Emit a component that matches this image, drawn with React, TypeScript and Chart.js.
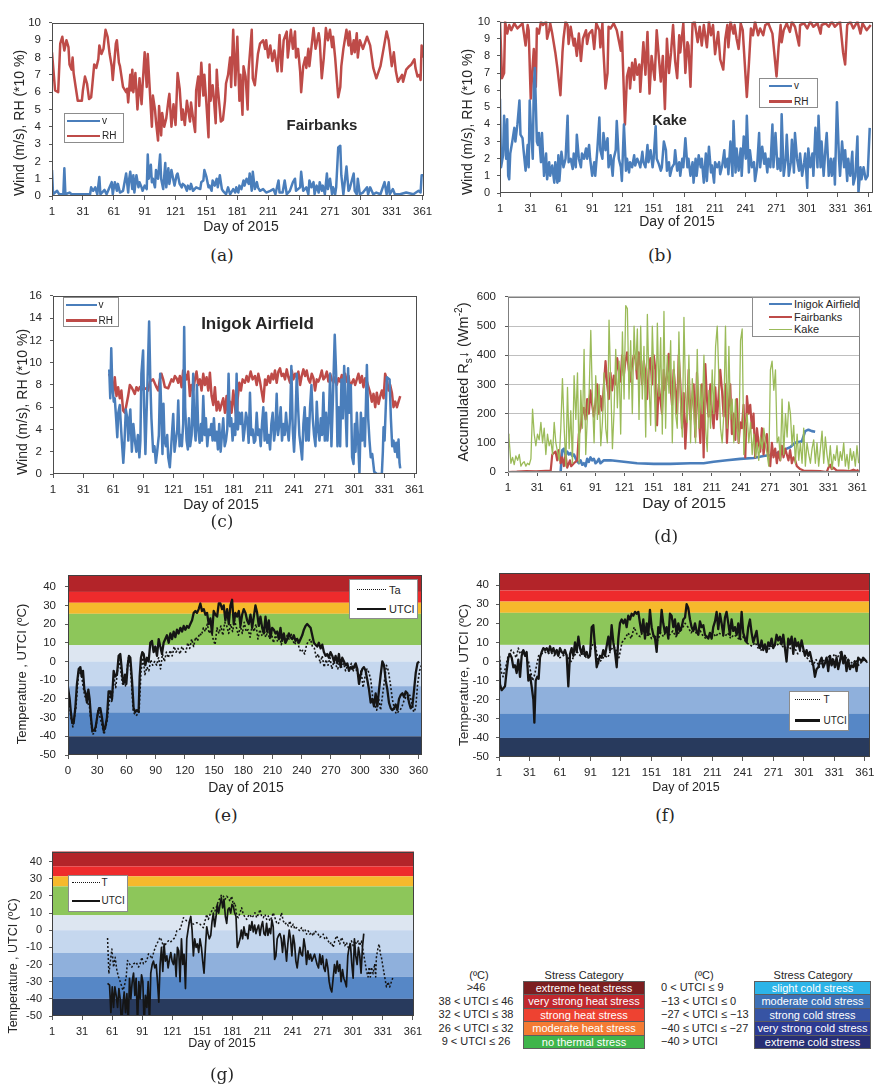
import React, { useEffect, useRef } from "react";
import { Chart, registerables } from "chart.js";

Chart.register(...registerables);

type P = [number, number];

// ---------- axis ticks ----------
const dayTicksFrom1 = [1, 31, 61, 91, 121, 151, 181, 211, 241, 271, 301, 331, 361];
const dayTicksFrom0 = [0, 30, 60, 90, 120, 150, 180, 210, 240, 270, 300, 330, 360];
const windTicks = [0, 1, 2, 3, 4, 5, 6, 7, 8, 9, 10];
const inigokWindTicks = [0, 2, 4, 6, 8, 10, 12, 14, 16];
const radiationTicks = [0, 100, 200, 300, 400, 500, 600];
const temperatureTicks = [-50, -40, -30, -20, -10, 0, 10, 20, 30, 40];
const utciBandEdges = [46.5, 37.2, 31.4, 25.5, 8.7, 0, -13.2, -27.2, -40, -50];

// ---------- (a) Fairbanks ----------
const fairbanksV: P[] = [[1,1.5],[2,0.1],[6,0.3],[8,0.1],[12,0.1],[13,1.6],[14,0.1],[18,0.2],[20,0.1],[38,0.1],[39,0.5],[41,0.3],[43,0.5],[45,0.1],[47,1.1],[48,0.1],[52,0.35],[54,0.1],[59,0.8],[60,0.1],[62,0.8],[64,0.3],[65,0.7],[67,0.2],[70,0.3],[73,1.3],[75,0.2],[76,1.0],[77,1.4],[79,0.4],[80,1.2],[81,0.2],[83,1.2],[85,0.5],[86,0.8],[88,0.5],[89,0.3],[91,0.6],[93,0.4],[94,2.4],[95,1.0],[97,1.8],[98,0.8],[99,1.0],[101,0.5],[102,1.5],[104,1.0],[106,2.4],[107,1.0],[109,0.4],[111,1.9],[112,0.5],[114,1.6],[115,0.7],[117,1.5],[119,0.9],[120,0.6],[122,1.2],[123,1.3],[125,0.7],[127,0.5],[128,0.7],[130,0.6],[132,0.3],[133,0.6],[135,0.4],[136,0.7],[138,0.3],[141,0.5],[145,0.4],[146,0.8],[148,0.9],[149,1.5],[151,1.1],[153,0.5],[154,0.6],[156,0.3],[157,0.9],[159,0.6],[161,1.0],[162,0.5],[164,1.2],[166,0.4],[167,0.3],[170,0.1],[172,0.5],[174,0.1],[177,0.4],[179,0.2],[180,0.5],[182,0.2],[183,0.6],[185,0.4],[187,0.9],[188,0.6],[190,1.0],[192,0.7],[193,1.3],[195,0.3],[196,1.4],[198,0.4],[200,0.8],[201,0.5],[203,0.3],[206,0.4],[209,0.2],[213,0.3],[216,0.4],[218,0.1],[221,0.9],[222,0.2],[225,0.2],[227,0.9],[229,0.1],[232,0.3],[235,0.8],[237,1.0],[238,0.3],[242,0.5],[243,1.4],[245,0.3],[248,0.5],[250,0.1],[251,0.9],[253,0.5],[255,0.8],[256,0.1],[258,0.6],[260,0.2],[261,0.8],[263,0.3],[264,0.6],[266,0.1],[268,1.3],[269,0.4],[271,1.0],[273,0.1],[274,0.5],[276,0.1],[277,0.5],[279,2.8],[281,2.9],[282,1.2],[284,0.1],[287,1.7],[289,0.3],[290,0.4],[294,1.3],[295,0.3],[297,0.1],[298,1.0],[300,0.1],[303,0.2],[307,0.5],[308,0.1],[310,0.5],[313,0.1],[316,0.2],[320,0.1],[324,0.8],[326,0.1],[328,0.8],[329,0.1],[332,0.4],[334,0.1],[339,0.1],[345,0.2],[352,0.1],[357,0.3],[359,0.2],[360,1.2],[362,1.2]];
const fairbanksRH: P[] = [[1,8.3],[4,6.1],[7,6.0],[9,8.8],[11,9.2],[13,8.4],[15,9.0],[17,8.6],[18,7.6],[20,7.3],[21,8.0],[22,7.1],[24,6.3],[26,5.5],[30,5.5],[31,6.1],[33,6.9],[35,6.5],[37,5.6],[39,5.7],[40,6.3],[42,7.6],[44,7.4],[46,7.9],[47,8.7],[49,8.2],[51,8.5],[53,9.6],[55,9.2],[57,8.2],[59,7.5],[60,6.7],[63,8.8],[64,9.0],[66,7.7],[67,7.5],[70,6.3],[73,6.0],[74,6.2],[75,5.4],[77,7.0],[78,6.1],[79,7.3],[80,6.0],[82,7.1],[84,5.0],[86,6.8],[88,5.3],[89,6.4],[91,8.3],[93,6.3],[94,8.2],[96,6.1],[98,4.0],[99,5.8],[101,5.0],[102,4.3],[104,3.2],[105,5.2],[107,3.5],[108,4.8],[110,4.0],[112,4.5],[114,5.5],[115,5.9],[117,4.0],[119,5.3],[121,4.1],[123,7.1],[125,6.2],[127,4.4],[128,5.0],[130,4.1],[132,5.5],[135,4.3],[136,5.4],[138,4.5],[140,3.7],[141,6.1],[143,6.9],[144,5.2],[146,7.7],[148,5.8],[149,7.0],[151,5.3],[153,3.4],[154,7.6],[155,5.5],[157,6.4],[158,5.8],[160,4.2],[161,7.3],[162,6.3],[165,4.3],[167,4.4],[169,5.5],[170,6.5],[172,7.0],[174,8.0],[175,6.3],[177,9.6],[179,6.4],[181,9.2],[183,5.5],[184,7.0],[186,4.7],[187,7.5],[189,6.9],[191,5.0],[192,7.3],[195,9.6],[196,6.8],[198,6.4],[201,8.2],[203,8.8],[206,9.0],[208,8.5],[209,9.0],[211,8.0],[213,8.7],[215,7.8],[217,8.4],[220,7.2],[222,9.3],[224,7.2],[226,9.0],[229,9.5],[230,8.0],[233,9.6],[235,8.5],[237,9.5],[238,8.0],[240,8.5],[242,7.2],[243,6.0],[245,7.5],[247,8.0],[248,7.4],[250,8.5],[251,7.5],[255,9.7],[257,8.5],[260,9.4],[261,9.0],[263,6.8],[265,8.0],[267,9.7],[269,9.0],[271,9.6],[273,8.6],[274,9.2],[276,8.0],[279,5.7],[281,6.3],[282,7.5],[284,8.5],[287,9.6],[289,8.7],[290,9.5],[292,8.2],[294,9.0],[295,8.3],[297,9.4],[298,8.0],[300,9.0],[303,8.5],[307,9.2],[310,8.7],[313,7.4],[315,7.0],[316,6.8],[320,7.5],[323,8.5],[326,9.5],[328,9.0],[331,7.5],[333,8.3],[335,7.2],[337,6.6],[341,7.0],[342,6.6],[345,7.3],[348,7.5],[350,7.6],[353,7.9],[354,7.4],[356,6.9],[358,7.0],[359,6.7],[360,8.7],[362,8.0]];

// ---------- (b) Kake ----------
const kakeV: P[] = [[1,5.5],[2,1.5],[4,2.2],[5,4.5],[7,2.0],[8,4.3],[9,1.0],[10,0.8],[11,2.3],[13,3.0],[15,3.8],[16,3.0],[18,4.0],[20,5.4],[21,3.4],[23,3.2],[24,2.5],[26,1.3],[28,2.8],[29,1.5],[30,5.4],[31,4.0],[33,2.0],[34,6.2],[35,7.3],[37,3.0],[38,2.8],[39,3.5],[41,1.8],[42,3.5],[44,1.0],[46,2.3],[47,0.8],[49,1.8],[50,1.0],[52,1.6],[54,0.6],[55,1.8],[57,0.6],[58,2.2],[59,0.7],[61,2.4],[63,1.5],[65,2.0],[67,4.5],[68,1.8],[70,2.0],[72,1.4],[73,2.3],[75,1.5],[76,3.4],[78,2.0],[80,1.5],[81,2.3],[83,2.0],[85,2.6],[86,2.0],[88,2.8],[89,2.0],[91,1.0],[93,1.8],[94,1.0],[96,2.5],[98,4.4],[99,2.5],[101,2.0],[102,3.5],[104,2.5],[106,3.2],[107,1.5],[109,2.2],[111,1.0],[112,2.0],[114,2.5],[115,4.2],[117,2.0],[119,1.5],[120,0.7],[122,4.0],[124,1.3],[125,2.0],[127,1.2],[128,1.8],[130,1.5],[132,2.2],[133,1.6],[135,2.0],[137,1.7],[138,1.5],[140,2.4],[141,1.8],[143,1.5],[145,2.8],[146,1.8],[148,2.5],[150,1.5],[151,2.0],[153,3.9],[154,2.0],[156,1.7],[158,1.3],[159,1.5],[161,3.0],[163,2.5],[164,1.3],[166,1.8],[167,1.0],[169,1.5],[171,1.7],[172,2.5],[174,1.3],[176,1.8],[177,1.0],[179,2.0],[180,1.5],[182,3.2],[184,1.5],[185,2.0],[187,1.0],[189,1.8],[190,0.6],[192,2.0],[193,1.0],[195,2.2],[197,1.5],[198,2.0],[200,0.6],[202,2.3],[203,0.7],[205,2.7],[207,1.2],[208,1.6],[210,0.6],[211,1.8],[213,1.5],[215,1.8],[216,1.1],[218,1.6],[220,2.5],[221,1.5],[223,2.0],[224,1.1],[226,3.0],[228,1.0],[229,4.2],[231,1.2],[232,2.6],[234,1.3],[236,2.6],[237,1.0],[239,3.3],[241,2.0],[242,4.5],[244,1.2],[245,2.5],[247,1.5],[249,1.8],[250,0.7],[252,1.5],[254,3.5],[255,1.5],[257,2.7],[259,1.7],[260,2.3],[262,1.2],[263,2.0],[265,1.5],[267,4.0],[268,1.5],[270,3.5],[272,1.4],[273,2.0],[275,1.3],[276,4.6],[278,1.0],[280,2.0],[281,3.4],[283,1.0],[285,1.8],[286,3.1],[288,1.2],[289,3.5],[291,2.0],[293,1.3],[294,2.3],[296,1.0],[298,1.8],[299,2.3],[301,0.3],[302,2.6],[304,1.5],[306,2.3],[307,1.0],[309,3.8],[311,1.5],[312,4.5],[314,1.5],[315,3.0],[317,1.0],[319,2.8],[320,3.5],[322,1.0],[324,2.0],[325,1.0],[327,2.0],[328,0.5],[330,5.3],[332,2.0],[333,1.0],[335,3.0],[337,1.5],[338,2.5],[340,0.7],[341,2.0],[343,1.0],[345,2.4],[346,0.5],[348,1.0],[350,3.3],[351,0.0],[353,1.5],[354,0.8],[356,1.5],[358,0.8],[360,1.0],[362,3.8]];
const kakeRH: P[] = [[1,10],[3,6.7],[5,7.0],[6,10],[8,9.3],[10,9.8],[12,9.5],[15,9.9],[18,9.6],[23,9.9],[26,8.6],[28,9.8],[29,9.5],[31,5.5],[33,7.5],[34,8.4],[36,6.2],[37,9.6],[39,9.3],[41,10],[43,9.8],[46,10],[47,9.0],[49,9.5],[50,9.9],[52,9.3],[55,8.2],[57,7.3],[60,5.7],[62,8.2],[63,9.0],[65,10],[67,9.8],[68,8.7],[70,9.7],[73,8.6],[74,9.0],[76,8.0],[78,9.3],[80,7.7],[82,9.0],[85,9.5],[86,8.7],[88,9.3],[91,9.5],[93,8.4],[95,9.9],[98,9.5],[99,8.5],[101,9.9],[102,8.3],[104,6.1],[106,7.0],[107,9.7],[109,9.6],[112,9.9],[115,9.5],[117,8.9],[119,8.3],[120,9.4],[123,4.0],[125,6.8],[127,7.3],[128,6.1],[130,7.6],[132,6.6],[133,7.8],[135,6.9],[137,7.5],[138,5.9],[141,8.8],[143,6.9],[145,9.4],[147,5.8],[149,8.0],[152,6.6],[154,9.5],[156,8.0],[158,6.5],[160,8.0],[162,4.9],[164,9.0],[166,7.0],[168,8.2],[170,9.8],[172,7.7],[174,6.7],[176,9.2],[177,8.2],[180,9.9],[182,7.0],[184,8.8],[185,8.6],[187,6.2],[189,9.9],[191,10],[194,8.8],[196,9.7],[198,8.6],[200,9.8],[203,8.5],[205,10],[207,9.2],[209,9.8],[211,8.1],[214,9.4],[216,7.8],[219,7.2],[221,9.0],[223,9.8],[224,8.5],[226,10],[229,9.3],[230,9.8],[232,9.0],[234,8.4],[236,9.9],[238,9.5],[242,5.6],[244,7.5],[246,9.6],[248,9.2],[250,10],[253,9.2],[255,9.6],[258,9.2],[260,9.8],[263,9.9],[267,9.3],[271,6.8],[273,8.5],[275,9.8],[276,8.8],[278,9.5],[281,9.9],[284,9.4],[286,10],[289,9.7],[293,8.6],[294,9.8],[298,9.9],[301,9.6],[304,10],[307,9.7],[311,9.9],[314,9.3],[315,9.8],[319,9.9],[322,9.7],[325,10],[328,9.7],[333,10],[336,8.2],[338,7.5],[340,9.8],[343,10],[346,9.6],[350,10],[353,9.3],[355,9.9],[359,9.5],[363,9.8]];

// ---------- (c) Inigok Airfield ----------
const inigokV: P[] = [[57,9.4],[58,6.8],[59,11.3],[60,8.0],[61.5,6.5],[62.5,6.8],[64,4.8],[65,3.3],[66,5.5],[67.5,6.2],[68.5,4.5],[69.5,3.0],[71,1.0],[72,2.5],[73.5,5.8],[75,5.0],[76,3.0],[77,4.8],[78,5.8],[79.5,2.0],[81,4.5],[82.5,3.0],[84,2.0],[85.5,3.5],[87,1.5],[88,3.0],[89,9.0],[90.7,11.1],[91.7,6.0],[93,1.8],[94,5.0],[95,8.0],[96.7,13.7],[98,8.0],[99,5.0],[100.7,2.0],[102,2.5],[103.4,1.0],[104.7,2.0],[106.4,3.5],[107.7,9.0],[109,5.0],[110,1.8],[111,6.3],[112,3.0],[113.4,2.5],[114.7,3.5],[115.7,1.5],[117.3,0.6],[118.7,2.5],[119.7,4.0],[120.7,5.4],[122,2.0],[123.3,3.0],[124.7,4.0],[125.7,6.6],[127,2.5],[128,3.5],[129.3,2.5],[130.6,4.5],[131.6,13.2],[132.6,6.0],[134,3.0],[135.3,2.2],[136.3,5.0],[137.6,2.5],[139,3.5],[140.6,9.0],[141.6,4.5],[143,3.0],[144.3,8.0],[145.6,4.0],[147,2.8],[148.3,4.5],[149.3,3.0],[150.6,7.0],[152,3.5],[153.2,5.0],[154.6,2.5],[156,4.0],[157.2,3.5],[158.6,4.5],[159.9,3.0],[161.2,5.0],[162.5,3.0],[163.9,3.8],[165.2,2.2],[166.5,4.5],[167.9,2.0],[169.2,3.5],[170.5,5.0],[171.9,2.5],[173.2,3.0],[174.5,4.0],[175.8,9.0],[177.2,4.3],[178.5,5.0],[179.8,3.0],[181.2,4.5],[182.5,3.5],[183.8,9.0],[185.1,4.0],[186.5,5.5],[187.8,4.5],[189.1,5.5],[190.5,3.0],[191.8,4.0],[193.1,5.5],[194.5,4.8],[195.8,2.8],[197.1,7.3],[198.4,3.5],[199.8,4.0],[201.1,2.8],[202.4,3.0],[203.8,5.5],[205.1,3.5],[206.4,4.0],[207.8,2.5],[209.1,4.5],[210.4,6.0],[211.7,3.0],[213.1,5.5],[214.4,2.8],[215.7,3.5],[217.1,2.2],[218.4,4.5],[219.7,5.5],[221.1,3.0],[222.4,4.0],[223.7,7.2],[225,3.5],[226.4,4.5],[227.7,6.0],[229,3.0],[230.4,4.5],[231.7,3.5],[233,5.5],[234.3,4.0],[235.7,3.0],[237,5.0],[238.3,9.7],[239.7,4.0],[241,2.0],[242.3,4.5],[243.7,9.0],[245,6.0],[246.3,3.5],[247.6,2.5],[249,1.3],[250.3,4.5],[251.6,6.0],[253,3.0],[254.3,5.0],[255.6,3.0],[256.9,6.0],[258.3,8.0],[259.6,5.0],[260.9,3.5],[262.3,2.5],[263.6,6.5],[264.9,4.0],[266.3,3.0],[267.6,5.0],[268.9,3.5],[270.2,7.3],[271.6,3.0],[272.9,5.5],[274.2,3.0],[275.6,5.0],[276.9,9.0],[278.2,2.5],[279.6,6.5],[281.5,12.5],[282.9,9.0],[284.2,2.5],[285.5,6.0],[286.9,2.5],[288.2,8.5],[289.5,5.0],[290.9,9.7],[292.2,6.0],[293.5,2.5],[294.8,9.5],[296.2,5.5],[297.5,8.0],[298.8,1.5],[300.2,0.9],[301.5,4.5],[302.2,2.0],[303.5,5.5],[304.8,3.0],[306.1,0.0],[307.5,5.5],[308.8,3.0],[310.1,5.0],[311.5,2.5],[313.5,9.8],[314.8,5.0],[316.1,3.0],[317.4,1.5],[318.8,1.8],[320.8,0.2],[323.4,0.0],[328.4,0.0],[329.4,2.0],[330.1,4.2],[331.1,3.0],[333.4,8.7],[336.1,8.5],[337.4,5.0],[338.7,2.5],[340,3.0],[341.4,2.0],[342.7,2.8],[344,1.5],[345,3.1],[346,1.0],[346.7,0.5]];
const inigokRH: P[] = [[56.8,9.0],[59.2,8.5],[60.8,7.2],[62.5,8.7],[64.2,7.0],[65.8,7.8],[67.5,6.8],[69.1,7.5],[70.8,5.7],[72.5,5.5],[74.1,6.2],[75.8,7.0],[77.5,8.0],[79.1,7.8],[80.8,7.5],[82.4,7.2],[84.1,7.8],[85.8,7.5],[87.4,7.8],[90.7,7.6],[94.1,7.7],[95.7,7.5],[97.4,8.3],[100.7,8.5],[104,7.8],[105.7,7.5],[107.4,8.5],[109,9.0],[110.7,8.5],[112.4,7.8],[115.7,7.7],[119,8.5],[120.7,8.3],[122.3,8.8],[124,8.6],[125.7,8.2],[127.3,8.8],[129,7.8],[130.6,9.3],[132.3,9.0],[134,8.5],[135.6,9.2],[137.3,7.0],[138.9,8.0],[140.6,7.5],[142.3,8.5],[143.9,9.2],[145.6,8.0],[147.3,8.5],[148.9,7.5],[150.6,9.0],[152.2,8.0],[153.9,8.7],[155.6,7.5],[157.2,9.1],[158.9,7.0],[160.6,6.2],[162.2,7.8],[163.9,5.7],[165.5,6.5],[167.2,5.7],[168.9,6.3],[170.5,6.8],[172.2,5.5],[173.8,7.0],[175.5,5.2],[177.2,6.5],[178.8,5.5],[180.5,7.5],[182.2,6.0],[183.8,4.8],[184.8,6.7],[186.5,8.2],[188.1,7.5],[189.8,8.5],[192.1,8.2],[193.8,8.8],[195.5,8.3],[197.8,9.2],[199.8,8.5],[202.1,8.8],[203.8,8.0],[205.4,9.0],[207.1,8.3],[210.4,6.5],[212.1,8.5],[213.7,8.0],[215.4,8.8],[217.1,8.2],[218.7,9.0],[220.4,8.5],[222,9.3],[223.7,8.2],[225.4,9.2],[227,9.5],[228.7,8.8],[230.4,9.0],[232,8.5],[233.7,9.4],[235.3,8.7],[237,8.2],[238.7,9.3],[240.3,8.5],[242,9.0],[243.7,8.7],[245.3,9.2],[247,8.0],[248.6,8.8],[250.3,9.4],[252,8.8],[253.6,9.3],[255.3,8.5],[256.9,8.2],[258.6,9.0],[260.3,8.6],[261.9,7.5],[263.6,8.5],[265.2,8.3],[266.9,8.7],[268.6,9.3],[270.2,8.5],[271.9,8.7],[273.6,9.2],[275.2,8.3],[276.9,9.0],[278.5,8.5],[280.2,8.2],[281.9,8.7],[283.5,8.0],[285.2,8.6],[286.9,8.3],[288.5,8.9],[290.2,8.5],[291.8,9.0],[293.5,8.3],[295.2,8.8],[296.8,7.8],[298.5,8.2],[300.2,8.5],[301.8,8.0],[303.5,8.5],[305.1,9.0],[306.8,8.2],[308.5,8.8],[310.1,7.8],[311.8,8.6],[313.5,8.3],[315.1,7.8],[316.8,7.3],[318.4,6.5],[320.1,7.2],[321.8,6.0],[323.4,7.3],[325.1,6.3],[326.8,7.0],[328.4,7.5],[330.1,6.8],[331.7,9.0],[333.4,8.5],[335.1,7.5],[336.7,8.0],[338.4,7.3],[340,6.0],[341.7,6.5],[343.4,6.0],[345,6.5],[346.7,7.0]];

// ---------- (d) accumulated shortwave radiation ----------
const inigokRs: P[] = [[55.2,0],[56.9,75],[58.6,80],[60.3,60],[62,70],[63.7,60],[65.5,65],[67.2,55],[68.9,60],[71.6,40],[74,30],[75.7,40],[77.5,25],[79.2,30],[80.9,20],[82.6,45],[84.3,35],[86,50],[87.7,40],[89.5,45],[91.2,30],[92.9,35],[94.6,45],[96.3,30],[99.8,40],[106.6,40],[120.3,35],[134,30],[151.2,28],[168.3,28],[188.9,30],[202.6,30],[212.9,35],[226.6,40],[240.3,45],[254,48],[264.3,55],[271.2,58],[274.6,60],[281.5,70],[288.3,80],[291.7,85],[296.9,100],[303.8,105],[307.2,140],[310.6,145],[314.1,140],[317.5,138]];
const fairbanksRs: P[] = [[1,0],[10,1],[20,3],[30,2],[40,4],[45,5],[46.6,60],[50,70],[51.7,40],[53.5,75],[55.2,30],[56.9,50],[58.6,20],[60.3,60],[62,15],[64.8,40],[66.1,20],[68.9,30],[72.3,40],[74,130],[75.7,150],[77.5,200],[79.2,220],[80.9,180],[82.6,250],[84.3,200],[86,280],[87.7,230],[89.5,190],[91.2,240],[92.9,300],[94.6,200],[96.3,260],[98,210],[101.5,380],[103.2,300],[104.9,250],[106.6,340],[108.3,280],[110,330],[111.7,300],[113.5,390],[115.2,350],[116.9,310],[118.6,400],[120.3,330],[122,380],[123.7,410],[125.5,350],[127.2,310],[128.9,370],[130.6,400],[132.3,390],[134,320],[135.7,410],[137.5,360],[139.2,300],[140.9,380],[142.6,340],[144.3,250],[146,350],[147.7,390],[149.5,300],[151.2,400],[152.9,350],[154.6,160],[156.3,300],[158,250],[159.7,200],[161.5,350],[163.2,280],[164.9,330],[166.6,405],[168.3,300],[170,230],[171.7,350],[173.5,280],[175.2,200],[176.9,400],[178.6,300],[180.3,150],[182,270],[183.7,80],[185.5,200],[187.2,350],[188.9,180],[190.6,250],[192.3,300],[194,120],[195.7,340],[197.5,200],[199.2,100],[200.9,300],[202.6,50],[204.3,370],[206,250],[207.7,190],[209.5,300],[211.2,200],[212.9,150],[214.6,290],[216.3,180],[218,260],[219.7,350],[221.5,280],[223.2,190],[224.9,300],[226.6,100],[228.3,220],[230,300],[231.7,130],[233.5,200],[235.2,110],[236.9,250],[238.6,100],[240.3,170],[242,150],[243.7,230],[245.5,50],[247.2,260],[248.9,200],[250.6,230],[252.3,150],[254,200],[255.7,50],[257.5,150],[259.2,100],[260.9,70],[262.6,150],[264.3,60],[266,100],[267.7,130],[269.5,50],[271.2,20],[272.9,100],[274.6,50],[276.3,80],[278,30],[279.7,70],[281.5,40],[283.2,90],[284.9,50],[286.6,80],[288.3,60],[290,40],[291.7,75],[293.5,30],[295.2,50],[296.9,40],[298.6,20],[302,10],[305.5,5],[322.6,3],[329.5,0],[331.2,15],[332.9,25],[334.6,10],[336.3,15],[339.8,5],[346.6,5],[353.5,3],[356.9,8],[360.4,3],[362.1,8]];
const kakeRs: P[] = [[1,130],[2,120],
[4,30],[5.7,50],[7.4,25],[9.1,55],[10.9,40],[12.6,60],[14.3,20],
[16,30],[17.7,35],[19.4,20],[21.1,30],[22.9,25],[24.6,45],[26.3,215],
[28,130],[29.7,90],[31.4,130],[33.1,110],[34.9,170],[36.6,100],[38.3,150],
[40,60],[41.7,130],[43.4,90],[45.1,110],[46.9,60],[48.6,170],[50.3,100],
[52,70],[53.7,40],[55.4,150],[57.1,320],[58.9,150],[60.6,20],[62.3,290],
[64,80],[65.7,210],[67.4,30],[69.1,330],[70.9,180],[72.6,340],[74.3,30],
[76,280],[77.7,150],[79.4,420],[81.1,60],[82.9,200],[84.6,270],[86.3,485],
[88,250],[89.7,100],[91.4,330],[93.1,180],[94.9,300],[96.6,90],[98.3,170],
[100,340],[101.7,150],[103.4,100],[105.1,520],[106.9,300],[108.6,80],[110.3,210],
[112,420],[113.7,220],[115.4,380],[117.1,130],[118.9,480],[120.6,250],[122.3,570],
[124,560],[125.7,250],[127.4,450],[129.1,200],[130.9,500],[132.6,350],[134.3,490],
[136,180],[137.7,500],[139.4,250],[141.1,430],[142.9,120],[144.6,540],[146.3,300],
[148,160],[149.7,500],[151.4,320],[153.1,140],[154.9,510],[156.6,260],[158.3,460],
[160,130],[161.7,550],[163.4,150],[165.1,400],[166.9,270],[168.6,450],[170.3,100],
[172,380],[173.7,200],[175.4,150],[177.1,480],[178.9,230],[180.6,120],[182.3,530],
[184,260],[185.7,170],[187.4,400],[189.1,100],[190.9,320],[192.6,200],[194.3,100],
[196,420],[197.7,150],[199.4,300],[201.1,200],[202.9,400],[204.6,150],[206.3,70],
[208,280],[209.7,150],[211.4,350],[213.1,200],[214.9,430],[216.6,500],[218.3,320],
[220,150],[221.7,100],[223.4,200],[225.1,500],[226.9,150],[228.6,430],[230.3,180],
[232,250],[233.7,100],[235.4,250],[237.1,150],[238.9,100],[240.6,450],[242.3,490],
[244,60],[245.7,150],[247.4,200],[249.1,100],[250.9,170],[252.6,60],[254.3,130],
[256,50],[257.7,100],[259.4,40],[261.1,120],[262.9,80],[264.6,150],[266.3,100],
[268,60],[269.7,20],[271.4,350],[273.1,380],[274.9,280],[276.6,350],[278.3,100],
[280,120],[281.7,40],[283.4,250],[285.1,60],[286.9,200],[288.6,120],[290.3,240],
[292,200],[293.7,90],[295.4,160],[297.1,30],[298.9,130],[300.6,40],[302.3,100],
[304,30],[305.7,150],[307.4,20],[309.1,100],[310.9,60],[312.6,30],[314.3,80],
[316,110],[317.7,30],[319.4,100],[321.1,20],[322.9,80],[324.6,140],[326.3,30],
[328,120],[329.7,60],[331.4,20],[333.1,90],[334.9,10],[336.6,60],[338.3,40],
[340,90],[341.7,20],[343.4,70],[345.1,40],[346.9,100],[348.6,20],[350.3,60],
[352,10],[353.7,80],[355.4,40],[357.1,70],[358.9,20],[360.6,90],[362.3,30]];

// ---------- (e) Fairbanks temperature / UTCI ----------
const fairbanksUTCI: P[] = [[0,-14],[1.7,-20],[3.1,-28],[4.4,-33],[5.8,-33],[7.5,-25],[9.2,-12],[11,-4],[12.7,-3],[14,-8],[15.4,-5],[16.8,-15],[18.1,-17],[19.5,-22],[20.9,-15],[22.2,-20],[23.6,-30],[25,-37],[27,-37],[28.4,-35],[30.5,-28],[31.8,-25],[33.2,-25],[34.9,-30],[36.6,-37],[38.3,-35],[40,-30],[41.7,-16],[43.5,-16],[45.2,-20],[46.9,-5],[48.6,-8],[50.3,-7],[52,3],[53.7,4],[54.8,-2],[55.8,-8],[57.1,-12],[58.5,-7],[59.9,-12],[61.3,-2],[62.6,3],[64,2],[65.7,-10],[67.4,-25],[69.1,-27],[70.8,-26],[72.5,-27],[73.6,-8],[74.9,2],[76.3,5],[77.7,4],[79.4,-2],[81.1,2],
[82.8,0],[84.5,10],[86.2,11],[87.9,5],[89.6,8],[91.4,3],[93.1,12],
[94.8,8],[96.5,4],[98.2,10],[99.9,12],[101.6,14],[103.4,10],[105.1,15],
[106.8,12],[108.5,16],[110.2,13],[111.9,17],[113.6,15],[115.4,18],[117.1,16],
[118.8,19],[120.5,17],[122.2,19],[123.9,18],[125.6,20],[127.4,22],[129.1,26],
[130.8,27],[132.5,26],[134.2,28],[135.9,31],[137.6,27],[139.4,28],[141.1,25],
[142.8,26],[144.5,20],[146.2,23],[147.9,15],[149.6,27],[151.4,25],[153.1,24],
[154.8,31],[156.5,31],[158.2,28],[159.9,30],[161.6,22],[163.4,28],[165.1,20],
[166.8,30],[168.5,33],[170.2,20],[171.9,26],[173.6,24],[175.4,27],[177.1,19],
[178.8,25],[180.5,28],[182.2,26],[183.9,22],[185.6,20],[187.4,25],[189.1,18],
[190.8,24],[192.5,30],[194.2,26],[195.9,19],[197.6,24],[199.4,18],[201.1,15],
[202.8,24],[204.5,16],[206.2,22],[207.9,13],[209.6,18],[211.4,17],[213.1,15],
[214.8,16],[216.5,12],[218.2,18],[219.9,11],[221.6,15],[223.4,10],[225.1,12],
[226.8,15],[228.5,13],[230.2,12],[231.9,14],[233.6,11],[235.4,12],[237.1,10],
[238.8,12],[240.5,14],[242.2,17],[243.9,19],[245.6,20],[247.4,19],[249.1,18],
[250.8,14],[252.5,10],[254.2,9],[255.9,8],[257.6,10],[259.4,7],[261.1,9],
[262.8,5],[264.5,3],[266.2,4],[267.9,2],[269.6,5],[271.4,3],[273.1,0],
[274.8,3],[276.5,-1],[278.2,4],[279.9,-3],[281.6,2],[283.4,0],[285.1,-2],
[286.8,-1],[288.5,-5],[290.2,-3],[291.9,-4],[293.6,-3],[295.4,-1],[297.1,-4],
[298.8,-12],[300.5,-7],[302.2,-4],[303.9,-3],[305.6,-5],[307.4,-10],[309.1,-15],
[310.8,-22],[312.5,-20],[314.2,-24],[315.9,-17],[317.6,-24],[319.4,-15],[321.1,-7],
[322.8,0],[324.5,-2],[326.2,-10],[327.9,-15],[329.6,-22],[331.4,-25],[333.1,-26],
[334.8,-25],[336.5,-23],[338.2,-26],[339.9,-20],[341.6,-18],[343.4,-17],[345.1,-19],
[346.8,-16],[348.5,-17],[350.2,-22],[351.9,-25],[353.6,-24],[355.4,-15],[357.1,-6],
[358.8,-1],[360.5,0]];
const fairbanksTa: P[] = [[0,-15],[3,-30],[5,-35],[8,-25],[11,-5],[14,-8],[17,-18],[20,-22],[22,-24],[25,-39],[28,-38],[31,-26],[34,-32],[37,-39],[40,-32],[43,-18],[45,-22],[47,-8],[49,-14],[52,1],[54,-4],[56,-12],[59,-13],[62,2],[64,-2],[67,-27],[70,-29],[73,-27],[75,-5],[77,2],[79,-7],[81,-3],[83,-5],[85,1],[87,-2],[89,0],[91,-2],[93,2],[95,-4],[97,4],[99,0],[101,5],[103,2],[105,6],[107,3],[109,8],[111,5],[113,7],[115,4],[117,8],[119,6],[121,5],[123,10],[125,7],[127,12],[129,8],[131,13],[133,11],[135,15],[137,14],[139,18],[141,16],[143,20],[145,15],[147,17],[149,12],[151,9],[153,18],[155,15],[157,19],[159,14],[161,21],[163,19],[165,15],[167,20],[169,16],[171,22],[173,18],[175,14],[177,19],[179,15],[181,21],[183,16],[185,17],[187,13],[189,19],[191,16],[193,20],[195,12],[197,17],[199,14],[201,18],[203,13],[205,16],[207,12],[209,15],[211,10],[213,14],[215,11],[217,15],[219,9],[221,13],[223,10],[225,14],[227,12],[229,15],[231,11],[233,9],[235,13],[237,8],[239,5],[241,6],[243,4],[245,9],[247,11],[249,12],[251,8],[253,7],[255,2],[257,4],[259,-1],[261,3],[263,-3],[265,1],[267,-2],[269,2],[271,-4],[273,0],[275,-2],[277,-4],[279,0],[281,-3],[283,-1],[285,-5],[287,-2],[289,-4],[291,-1],[293,-5],[295,-3],[297,-6],[299,-8],[301,-5],[303,-14],[305,-8],[307,-4],[309,-6],[311,-10],[313,-20],[315,-23],[317,-26],[319,-20],[321,-26],[323,-18],[325,-10],[327,-2],[329,-5],[331,-12],[333,-20],[335,-25],[337,-28],[339,-27],[341,-26],[343,-24],[345,-21],[347,-19],[349,-20],[351,-18],[353,-22],[355,-27],[357,-25],[359,-12],[361,-5],[363,-2]];

// ---------- (f) Kake temperature / UTCI ----------
const kakeUTCI: P[] = [[1,2],[2,-12],[3.6,-15],[5.3,-14],[6.9,-13],[8.5,-5],[10.2,2],[11.8,4],[13.5,2],[15.1,-3],[16.7,-2],[18.4,-6],[20,1],[21.7,-8],[23.3,3],[24.9,6],[26.6,3],[28.2,5],[29.9,-10],[31.5,-7],[33.1,-13],[34.8,-20],[35.8,-32],[37.1,-10],[38.7,-8],[40,-9],[41.3,2],
[43,5],[44.6,7],[46.3,6],[47.9,7],[49.6,5],[51.2,8],[52.8,5],[54.5,7],[56.1,4],[57.8,6],[59.4,3],[61,7],[62.7,5],[64.3,4],[65.9,6],[67.6,3],[69.2,-13],[70.9,4],[72.5,7],[74.1,3],[75.8,10],[77.4,5],[79.1,13],[80.7,7],[82.3,4],[84,8],[85.6,3],[87.3,5],[88.9,2],[90.5,3],[92.2,18],[93.8,19],[95.4,8],[97.1,-3],[98.7,0],[100.4,3],[102,2],[103.6,6],[105.3,3],[106.9,8],[108.6,13],[110.2,6],[111.8,19],[113.5,10],[115.1,5],[116.8,-3],[118.4,12],[120,20],[121.7,22],[123.3,20],[125,22],[126.6,18],[128.2,24],[129.9,22],[131.5,25],[133.1,24],[134.8,26],[136.4,25],[138.1,26],[139.7,20],[141.3,15],[143,22],[144.6,12],[146.3,20],[147.9,14],[149.5,27],[151.2,18],[152.8,14],[154.5,12],[156.1,5],[157.7,18],[159.4,15],[161,27],[162.6,20],[164.3,15],[165.9,18],[167.6,12],[169.2,25],[170.8,24],[172.5,18],[174.1,22],[175.8,14],[177.4,20],[179,16],[180.7,18],[182.3,22],[184,23],[185.6,30],[187.2,28],[188.9,22],[190.5,18],[192.1,16],[193.8,20],[195.4,16],[197.1,14],[198.7,21],[200.3,18],[202,19],[203.6,14],[205.3,13],[206.9,12],[208.5,15],[210.2,12],[211.8,18],[213.5,21],[215.1,26],[216.7,17],[218.4,25],[220,20],[221.7,14],[223.3,23],[224.9,26],[226.6,20],[228.2,14],[229.8,22],[231.5,16],[233.1,18],[234.8,14],[236.4,20],[238,12],[239.7,26],[241.3,15],[243,12],[244.6,10],[246.2,18],[247.9,22],[249.5,15],[251.2,10],[252.8,13],[254.4,16],[256.1,9],[257.7,7],[259.3,11],[261,6],[262.6,9],[264.3,5],[265.9,10],[267.5,8],[269.2,12],[270.8,7],[272.5,9],[274.1,14],[275.7,11],[277.4,13],[279,9],[280.7,14],[282.3,7],[283.9,0],[285.6,12],[287.2,9],[288.9,13],[290.5,4],[292.1,12],[293.8,8],[295.4,10],[297,6],[298.7,11],[300.3,7],[302,3],[303.6,6],[305.2,3],[306.9,5],[308.5,1],[310.2,-2],[311.8,-8],[313.4,-4],[315.1,-3],[316.7,0],[318.4,2],[320,-3],[321.6,-1],[323.3,2],[324.9,-5],[326.6,3],[328.2,-2],[329.8,1],[331.5,-3],[333.1,2],[334.7,-4],[336.4,0],[338,5],[339.7,-1],[341.3,3],[342.9,-5],[344.6,1],[346.2,-4],[347.9,-2],[349.5,-3],[351.1,0],[352.8,-5],[354.4,2],[356.1,1],[357.7,0],[359.3,2],[362.6,0]];
const kakeT: P[] = [[1,5],[3,-5],[5,-8],[8,-2],[10,3],[13,6],[15,5],[18,2],[20,7],[22,4],[25,6],[27,3],[30,0],[32,-5],[34,-10],[36,-7],[38,-2],[40,3],[43,4],[46,5],[49,4],[52,5],[55,3],[58,4],[61,2],[64,3],[67,4],[69,2],[72,0],[75,3],[78,5],[81,3],[84,4],[87,2],[90,3],[92,8],[95,10],[97,5],[99,-1],[102,1],[105,3],[108,2],[111,6],[114,8],[117,5],[119,2],[122,10],[125,12],[128,15],[131,12],[134,18],[137,14],[140,13],[143,16],[146,13],[149,15],[151,12],[154,14],[157,11],[160,15],[163,13],[166,17],[169,14],[172,16],[175,13],[178,15],[181,17],[184,20],[187,18],[190,15],[193,17],[196,14],[199,16],[202,13],[205,12],[208,14],[211,16],[214,13],[217,15],[220,14],[223,13],[226,15],[229,12],[232,14],[235,13],[238,11],[241,13],[244,10],[247,9],[250,8],[253,10],[256,7],[259,6],[262,8],[265,6],[268,7],[271,9],[274,8],[277,10],[280,8],[283,6],[286,8],[289,6],[292,7],[295,4],[298,6],[301,5],[304,2],[307,0],[310,-2],[313,1],[316,-3],[319,0],[322,1],[325,3],[328,0],[331,4],[334,2],[337,5],[340,1],[343,2],[346,0],[349,-1],[352,1],[355,-2],[358,0],[361,1],[364,-1]];

// ---------- (g) Inigok temperature / UTCI ----------
const inigokUTCI: P[] = [[56.4,-31],[58.4,-32],[59.7,-48],[61.1,-33],[62.4,-45],[63.7,-33],[65,-38],[66.4,-45],[67.7,-34],[69,-40],[70.3,-55],[71.7,-44],[73,-36],[74.3,-48],[75.7,-37],[77,-55],[78.3,-28],[79.6,-40],[81,-30],[82.3,-25],[83.6,-38],[84.9,-28],[86.3,-55],[87.6,-30],[88.9,-40],[90.3,-26],[91.6,-30],[92.9,-55],[94.2,-38],[95.6,-45],[96.9,-30],[98.2,-55],[99.5,-25],[100.9,-20],[102.2,-18],[103.5,-22],[104.9,-20],[106.2,-30],[107.5,-42],[108.8,-20],[110.2,-10],[111.5,-24],[112.8,-8],[114.1,-18],[115.5,-15],[116.8,-22],[118.1,-17],[119.5,-13],[120.8,-18],[122.1,-20],[123.4,-14],[124.8,-27],[126.1,-10],[127.4,-12],[128.7,-30],[130.1,-5],[131.4,-20],[132.7,-14],[134.1,-34],[135.4,-5],[136.7,0],[138,5],[139.4,8],[140.7,0],[142,-15],[143.3,-5],[144.7,-10],[146,-8],[147.3,-13],[148.6,-5],[150,-10],[151.3,-18],[152.6,-25],[154,-10],[155.3,2],[156.6,-2],[157.9,-5],[159.3,-3],[160.6,5],[161.9,10],[163.2,2],[164.6,8],[165.9,15],[167.2,10],[168.6,15],[169.9,19],[171.2,13],[172.5,18],[173.9,8],[175.2,4],[176.5,12],[177.8,13],[179.2,10],[180.5,15],[181.8,14],[183.2,10],[184.5,8],[185.8,-10],[187.1,-8],[188.5,-5],[189.8,0],[191.1,-5],[192.4,2],[193.8,-3],[195.1,-2],[196.4,-5],[197.8,3],[199.1,0],[200.4,5],[201.7,-1],[203.1,3],[204.4,-2],[205.7,1],[207,3],[208.4,-3],[209.7,2],[211,5],[212.4,-2],[213.7,-3],[215,4],[216.3,-3],[217.7,1],[219,-2],[220.3,6],[221.6,2],[223,-17],[224.3,-15],[225.6,-5],[227,-3],[228.3,-2],[229.6,-5],[230.9,-13],[232.3,-3],[233.6,-10],[234.9,-18],[236.2,-8],[237.6,0],[238.9,-5],[240.2,-15],[241.6,-3],[242.9,-8],[244.2,-18],[245.5,-22],[246.9,-15],[248.2,-10],[249.5,-14],[250.8,-15],[252.2,-5],[253.5,-10],[254.8,-20],[256.2,-12],[257.5,-17],[258.8,-14],[260.1,-18],[261.5,-16],[262.8,-14],[264.1,-17],[265.4,-20],[266.8,-22],[268.1,-14],[269.4,-20],[270.8,-15],[272.1,-22],[273.4,-24],[274.7,-17],[276.1,-22],[277.4,-30],[278.7,-34],[280,-36],[281.4,-28],[282.7,-20],[284,-25],[285.4,-18],[286.7,-24],[288,-20],[289.3,-30],[290.7,-23],[292,-28],[293.3,-30],[294.6,-33],[296,-15],[297.3,-10],[298.6,-8],[300,-20],[301.3,-28],[302.6,-5],[303.9,-15],[305.3,-20],[306.6,-10],[307.9,-15],[309.2,-25],[310.6,-10],[311.9,-2]];
const inigokT: P[] = [[56.4,-4.6],[57.7,-25.4],[60.7,-11],[62.4,-21.5],[64,-15.8],[65.7,-23.5],[67.4,-27.3],[69.7,-31.2],[71.7,-35],[73,-33.1],[75,-27.3],[76.3,-17.7],[78.3,-19.6],[80.6,-21.5],[82.3,-19.6],[85,-18.7],[87.3,-21.5],[88.9,-19.6],[90.6,-15.8],[92.2,-19.6],[95.6,-17.7],[97.2,-13.8],[98.9,-14.8],[100.5,-16.7],[103.9,-10],[105.5,-8.1],[108.8,-4.2],[110.5,-6.2],[112.2,-10],[115.5,-7.1],[117.1,-6.2],[118.8,-7.1],[122.1,-5.2],[123.8,-4.2],[125.4,-0.4],[128.7,0.6],[130.4,3.5],[132.1,7.3],[135.4,5.4],[138.7,4.4],[142,3.5],[145.3,4.4],[148.6,3.5],[151.9,1.5],[153.6,5.4],[155.3,9.2],[156.9,6.3],[158.6,9.2],[161.9,13.1],[163.5,11.2],[165.2,14],[166.9,16.9],[168.6,18.8],[170.2,20.8],[171.9,19.8],[173.5,17.9],[175.2,19.8],[176.9,18.8],[178.5,16.9],[180.2,19.8],[181.8,15],[183.5,16],[185.2,8.3],[186.8,7.3],[188.5,10.2],[190.1,13.1],[191.8,9.2],[195.1,6.3],[196.8,8.3],[198.4,9.2],[200.1,7.3],[201.7,8.3],[203.4,10.2],[205.1,7.3],[206.7,9.2],[208.4,12.1],[210,8.3],[211.7,7.3],[213.4,9.2],[215,6.3],[216.7,8.3],[218.3,5.4],[220,7.3],[221.6,10.2],[223.3,7.3],[225,4.4],[226.6,3.5],[228.3,6.3],[229.9,10.2],[231.6,5.4],[233.3,3.5],[234.9,4.4],[236.6,2.5],[238.2,5.4],[239.9,1.5],[241.6,3.5],[243.2,0.6],[244.9,1.5],[248.2,-0.4],[249.9,1.5],[251.5,-0.4],[253.2,0.6],[254.8,-2.3],[256.5,-0.4],[258.1,-2.3],[259.8,-1.3],[261.5,-3.3],[263.1,-0.4],[264.8,-1.3],[266.4,-2.3],[268.1,-4.2],[269.8,-3.3],[271.4,-2.3],[273.1,-5.2],[274.7,-4.2],[276.4,-6.2],[278.1,-8.1],[279.7,-7.1],[281.4,-10],[283,-6.2],[284.7,-3.3],[286.3,-5.2],[288,-8.1],[289.7,-4.2],[291.3,-6.2],[293,-9],[294.6,-7.1],[296.3,-10],[298,-8.1],[299.6,-6.2],[301.3,-9],[302.9,-6.2],[304.6,-8.1],[306.3,-6.2],[307.9,-9],[309.6,-6.2],[311.2,-11.9],[312.9,-17.7],[314.5,-23.5],[316.2,-27.3],[317.2,-21.5],[318.5,-27.3],[319.5,-21.5],[321.2,-25.4],[322.8,-19.6],[323.8,-27.3],[324.5,-15.8],[326.2,-10],[327.2,-8.1],[328.5,-13.8],[329.5,-15.8],[331.1,-21.5],[332.8,-27.3],[334.5,-33.1],[336.1,-30.2],[337.8,-33.1],[339.4,-30.2],[341.1,-27.3]];

// ---------- UTCI stress category table ----------
const heatRanges = [">46", "38 < UTCI ≤ 46", "32 < UTCI ≤ 38", "26 < UTCI ≤ 32", "9 < UTCI ≤ 26"];
const heatCategories = ["extreme heat stress", "very strong heat stress", "strong heat stress", "moderate heat stress", "no thermal stress"];
const coldRanges = ["0 < UTCI ≤ 9", "−13 < UTCI ≤ 0", "−27 < UTCI ≤ −13", "−40 ≤ UTCI ≤ −27", "−40 > UTCI"];
const coldCategories = ["slight cold stress", "moderate cold stress", "strong cold stress", "very strong cold stress", "extreme cold stress"];

// ---------- styles ----------
const FONT = "'Liberation Sans', Arial, sans-serif";
const SERIF = "'DejaVu Serif', 'Liberation Serif', serif";
const BLUE = "#4a7ebb";
const RED = "#be4b48";
const GREEN = "#9bbb59";
const BLACK = "#151515";
const TEXT = "#262626";
const BAND_COLORS = ["#b32429", "#ee2b2c", "#f6b92c", "#8dc65a", "#dde6f1", "#c5d7ee", "#8fb0dc", "#5687c6", "#283a5d"];
const HEAT_CELL = ["#7c1e20", "#c1272d", "#ee4231", "#f47b33", "#3fb54b"];
const COLD_CELL = ["#2cb4e8", "#3d70b6", "#3754a4", "#2c3a92", "#272e74"];

interface Series { data: P[]; color: string; width: number; dash?: number[] }
interface PanelSpec {
  plot: [number, number, number, number];
  xMin: number; xMax: number; xTicks: number[];
  yMin: number; yMax: number; yTicks: number[];
  series: Series[];
  tickSize: number;
  yGap: number;
  grid?: boolean;
  bands?: boolean;
  frame: string;
  nudgeLastLabel?: boolean;
}

const PAD_L = 45, PAD_T = 12, PAD_R = 24, PAD_B = 32;

const bandPlugin = {
  id: "utciBands",
  beforeDatasetsDraw(chart: any) {
    const { ctx, chartArea, scales } = chart;
    const y = scales.y;
    ctx.save();
    ctx.beginPath();
    ctx.rect(chartArea.left, chartArea.top, chartArea.right - chartArea.left, chartArea.bottom - chartArea.top);
    ctx.clip();
    for (let i = 0; i < utciBandEdges.length - 1; i++) {
      const top = y.getPixelForValue(utciBandEdges[i]);
      const bot = y.getPixelForValue(utciBandEdges[i + 1]);
      ctx.fillStyle = BAND_COLORS[i];
      ctx.fillRect(chartArea.left, top, chartArea.right - chartArea.left, bot - top);
    }
    ctx.restore();
  },
};

function framePlugin(color: string) {
  return {
    id: "plotFrame",
    afterDatasetsDraw(chart: any) {
      const { ctx, chartArea } = chart;
      ctx.save();
      ctx.strokeStyle = color;
      ctx.lineWidth = 1;
      ctx.strokeRect(Math.round(chartArea.left) + 0.5, Math.round(chartArea.top) + 0.5,
        Math.round(chartArea.right - chartArea.left) - 1, Math.round(chartArea.bottom - chartArea.top) - 1);
      ctx.restore();
    },
  };
}

function PanelChart({ spec }: { spec: PanelSpec }) {
  const ref = useRef<HTMLCanvasElement>(null);
  const [l, t, r, b] = spec.plot;
  const left = l - PAD_L, top = t - PAD_T;
  const width = r + PAD_R - left, height = b + PAD_B - top;
  useEffect(() => {
    const canvas = ref.current;
    if (!canvas) return;
    const plugins: any[] = [];
    if (spec.bands) plugins.push(bandPlugin);
    plugins.push(framePlugin(spec.frame));
    const lastX = spec.xTicks[spec.xTicks.length - 1];
    const chart = new Chart(canvas, {
      type: "line",
      data: {
        datasets: spec.series.map((s) => ({
          data: s.data.map(([x, y]) => ({ x, y })),
          borderColor: s.color,
          backgroundColor: s.color,
          borderWidth: s.width,
          borderDash: s.dash || [],
          pointRadius: 0,
          pointHoverRadius: 0,
          fill: false,
          tension: 0,
          borderJoinStyle: "round",
        })),
      },
      options: {
        animation: false,
        responsive: false,
        maintainAspectRatio: false,
        events: [],
        layout: { padding: { left: 0, top: PAD_T, right: PAD_R, bottom: 0 } },
        plugins: { legend: { display: false }, tooltip: { enabled: false } },
        scales: {
          x: {
            type: "linear",
            min: spec.xMin,
            max: spec.xMax,
            afterBuildTicks: (a: any) => { a.ticks = spec.xTicks.map((v) => ({ value: v })); },
            afterFit: (a: any) => { a.height = PAD_B; },
            grid: { drawOnChartArea: false, drawTicks: true, tickLength: 4, color: "#595959", tickColor: "#595959" },
            border: { display: false },
            ticks: { autoSkip: false, maxRotation: 0, minRotation: 0, padding: 5, color: TEXT,
              font: { family: FONT, size: spec.tickSize },
              callback: (v: any) => (spec.nudgeLastLabel && v === lastX ? String(v) + "\u2002\u2002" : String(v)) },
          },
          y: {
            type: "linear",
            min: spec.yMin,
            max: spec.yMax,
            afterBuildTicks: (a: any) => { a.ticks = spec.yTicks.map((v) => ({ value: v })); },
            afterFit: (a: any) => { a.width = PAD_L; },
            grid: { drawOnChartArea: !!spec.grid, drawTicks: true, tickLength: 3,
              color: spec.grid ? "#bfbfbf" : "#595959", tickColor: "#595959" },
            border: { display: false },
            ticks: { autoSkip: false, padding: spec.yGap - 3, color: TEXT,
              font: { family: FONT, size: spec.tickSize }, callback: (v: any) => String(v) },
          },
        },
      } as any,
      plugins,
    });
    return () => chart.destroy();
  }, []);
  return (
    <canvas ref={ref} width={width} height={height}
      style={{ position: "absolute", left, top, width, height }} />
  );
}

function HText({ x, y, size, bold, children, color, family }: any) {
  return (
    <div style={{ position: "absolute", left: x, top: y, transform: "translate(-50%,-50%)", whiteSpace: "nowrap",
      fontSize: size, fontFamily: family || FONT, fontWeight: bold ? 700 : 400, color: color || TEXT, lineHeight: 1 }}>
      {children}
    </div>
  );
}

function VText({ x, y, size, children }: any) {
  return (
    <div style={{ position: "absolute", left: x, top: y, transform: "translate(-50%,-50%) rotate(-90deg)",
      whiteSpace: "nowrap", fontSize: size, fontFamily: FONT, color: TEXT, lineHeight: 1 }}>
      {children}
    </div>
  );
}

interface LegendItem { label: string; color: string; width: number; dotted?: boolean; y: number }
function Legend({ box, lineX, textX, items, size }: { box: [number, number, number, number]; lineX: [number, number]; textX: number; items: LegendItem[]; size: number }) {
  const [bx, by, bw, bh] = box;
  return (
    <>
      <div style={{ position: "absolute", left: bx, top: by, width: bw, height: bh, background: "#fff",
        border: "1px solid #8c8c8c", boxSizing: "border-box" }} />
      {items.map((it, i) => (
        <React.Fragment key={i}>
          {it.dotted ? (
            <div style={{ position: "absolute", left: lineX[0], top: it.y - it.width / 2, width: lineX[1] - lineX[0],
              height: 0, borderTop: `${it.width}px dotted ${it.color}` }} />
          ) : (
            <div style={{ position: "absolute", left: lineX[0], top: it.y - it.width / 2, width: lineX[1] - lineX[0],
              height: it.width, background: it.color }} />
          )}
          <div style={{ position: "absolute", left: textX, top: it.y, transform: "translateY(-50%)", fontSize: size,
            fontFamily: FONT, color: TEXT, lineHeight: 1, whiteSpace: "nowrap" }}>{it.label}</div>
        </React.Fragment>
      ))}
    </>
  );
}

const panelA: PanelSpec = { plot: [52, 20, 424, 196], xMin: 1, xMax: 362.3, xTicks: dayTicksFrom1, yMin: 0, yMax: 10, yTicks: windTicks,
  series: [{ data: fairbanksV, color: BLUE, width: 2.5 }, { data: fairbanksRH, color: RED, width: 2.5 }], tickSize: 11.5, yGap: 11, frame: "#4d4d4d" };
const panelB: PanelSpec = { plot: [500, 20, 873, 193], xMin: 1, xMax: 365.2, xTicks: dayTicksFrom1, yMin: 0, yMax: 10, yTicks: windTicks,
  series: [{ data: kakeV, color: BLUE, width: 2.5 }, { data: kakeRH, color: RED, width: 2.5 }], tickSize: 11, yGap: 10, frame: "#4d4d4d", nudgeLastLabel: true };
const panelC: PanelSpec = { plot: [53, 293, 417, 474], xMin: 1, xMax: 363.4, xTicks: dayTicksFrom1, yMin: 0, yMax: 16, yTicks: inigokWindTicks,
  series: [{ data: inigokV, color: BLUE, width: 2.5 }, { data: inigokRH, color: RED, width: 2.5 }], tickSize: 11.5, yGap: 11, frame: "#4d4d4d" };
const panelD: PanelSpec = { plot: [508, 293, 860, 472], xMin: 1, xMax: 363.7, xTicks: dayTicksFrom1, yMin: 0, yMax: 600, yTicks: radiationTicks,
  series: [{ data: kakeRs, color: GREEN, width: 1.3 }, { data: fairbanksRs, color: RED, width: 2.2 }, { data: inigokRs, color: BLUE, width: 2.6 }],
  tickSize: 11.5, yGap: 12, grid: true, frame: "#7f7f7f" };
const panelE: PanelSpec = { plot: [68, 571, 422, 755], xMin: 0, xMax: 363.5, xTicks: dayTicksFrom0, yMin: -50, yMax: 46.3, yTicks: temperatureTicks,
  series: [{ data: fairbanksUTCI, color: BLACK, width: 2.3 }, { data: fairbanksTa, color: BLACK, width: 1.6, dash: [2, 2] }],
  tickSize: 11.5, yGap: 12, bands: true, frame: "#404040" };
const panelF: PanelSpec = { plot: [499, 571, 870, 757], xMin: 1, xMax: 366, xTicks: dayTicksFrom1, yMin: -50, yMax: 46.4, yTicks: temperatureTicks,
  series: [{ data: kakeUTCI, color: BLACK, width: 2.3 }, { data: kakeT, color: BLACK, width: 1.6, dash: [2, 2] }],
  tickSize: 11.5, yGap: 10, bands: true, frame: "#404040" };
const panelG: PanelSpec = { plot: [52, 850, 414, 1016], xMin: 1, xMax: 362, xTicks: dayTicksFrom1, yMin: -50, yMax: 45.8, yTicks: temperatureTicks,
  series: [{ data: inigokUTCI, color: BLACK, width: 1.7 }, { data: inigokT, color: BLACK, width: 1.5, dash: [2, 2] }],
  tickSize: 11, yGap: 10, bands: true, frame: "#404040" };

function StressTable() {
  const cellTop = 980.7;
  const rowH = 13.5;
  const fs = 11;
  const cellStyle = (bg: string, left: number, w: number, i: number): React.CSSProperties => ({
    position: "absolute", left, top: cellTop + rowH * i, width: w, height: rowH + 1, background: bg,
    border: "1px solid #5e5e5e", boxSizing: "border-box", color: "#fff", fontFamily: FONT, fontSize: fs,
    lineHeight: `${rowH - 1}px`, textAlign: "center", whiteSpace: "nowrap", overflow: "hidden",
  });
  return (
    <>
      <HText x={479} y={975} size={fs}>(ºC)</HText>
      <HText x={584} y={975} size={fs}>Stress Category</HText>
      <HText x={704} y={975} size={fs}>(ºC)</HText>
      <HText x={813} y={975} size={fs}>Stress Category</HText>
      {heatRanges.map((t, i) => (
        <HText key={"hr" + i} x={476} y={cellTop + rowH * (i + 0.5)} size={fs}>{t}</HText>
      ))}
      {heatCategories.map((t, i) => (
        <div key={"hc" + i} style={cellStyle(HEAT_CELL[i], 523, 122, i)}>{t}</div>
      ))}
      {coldRanges.map((t, i) => (
        <div key={"cr" + i} style={{ position: "absolute", left: 661, top: cellTop + rowH * (i + 0.5), transform: "translateY(-50%)",
          fontFamily: FONT, fontSize: fs, lineHeight: 1, color: TEXT, whiteSpace: "nowrap" }}>{t}</div>
      ))}
      {coldCategories.map((t, i) => (
        <div key={"cc" + i} style={cellStyle(COLD_CELL[i], 754, 117, i)}>{t}</div>
      ))}
    </>
  );
}

export default function App() {
  return (
    <div style={{ position: "relative", width: 874, height: 1088, overflow: "hidden", background: "#fff" }}>
      <style>{`html,body{margin:0;padding:0;overflow:hidden;background:#fff}`}</style>
      <PanelChart spec={panelA} />
      <PanelChart spec={panelB} />
      <PanelChart spec={panelC} />
      <PanelChart spec={panelD} />
      <PanelChart spec={panelE} />
      <PanelChart spec={panelF} />
      <PanelChart spec={panelG} />

      {/* axis titles */}
      <VText x={18.5} y={123} size={14}>Wind (m/s), RH (*10 %)</VText>
      <HText x={241} y={226} size={14}>Day of 2015</HText>
      <VText x={467} y={122} size={14}>Wind (m/s), RH (*10 %)</VText>
      <HText x={677} y={221} size={14}>Day of 2015</HText>
      <VText x={22} y={402} size={14}>Wind (m/s), RH (*10 %)</VText>
      <HText x={221} y={504} size={14}>Day of 2015</HText>
      <VText x={464} y={382} size={14.5}>Accumulated R<sub style={{ fontSize: "70%" }}>s</sub>↓ (Wm<sup style={{ fontSize: "70%" }}>-2</sup>)</VText>
      <HText x={684} y={503} size={15.5}>Day of 2015</HText>
      <VText x={21} y={674} size={13}>Temperature , UTCI (ºC)</VText>
      <HText x={246} y={787} size={14}>Day of 2015</HText>
      <VText x={464} y={675} size={13.5}>Temperature, UTCI  (ºC)</VText>
      <HText x={686} y={787} size={12.5}>Day of 2015</HText>
      <VText x={13} y={966} size={12.5}>Temperature , UTCI (ºC)</VText>
      <HText x={222} y={1043} size={12.5}>Day of 2015</HText>

      {/* station names */}
      <HText x={322} y={124} size={15} bold>Fairbanks</HText>
      <HText x={669.5} y={119.5} size={14.5} bold>Kake</HText>
      <HText x={257.5} y={322.5} size={17} bold>Inigok Airfield</HText>

      {/* legends */}
      <Legend box={[64, 113, 60, 30]} lineX={[67, 100]} textX={102} size={10}
        items={[{ label: "v", color: BLUE, width: 2.5, y: 121 }, { label: "RH", color: RED, width: 2.5, y: 136 }]} />
      <Legend box={[759, 78, 59, 30]} lineX={[769, 792]} textX={794} size={10}
        items={[{ label: "v", color: BLUE, width: 2.5, y: 86 }, { label: "RH", color: RED, width: 2.5, y: 101.5 }]} />
      <Legend box={[63, 297, 56, 30]} lineX={[66, 97]} textX={98.5} size={10}
        items={[{ label: "v", color: BLUE, width: 2.5, y: 305 }, { label: "RH", color: RED, width: 2.5, y: 320.5 }]} />
      <Legend box={[752, 297, 108, 40]} lineX={[769, 792]} textX={794} size={11}
        items={[{ label: "Inigok Airfield", color: BLUE, width: 2.5, y: 304 }, { label: "Fairbanks", color: RED, width: 2.2, y: 316.7 },
          { label: "Kake", color: GREEN, width: 1.3, y: 329.3 }]} />
      <Legend box={[349, 579, 69, 40]} lineX={[357, 386]} textX={389} size={11}
        items={[{ label: "Ta", color: BLACK, width: 1.8, dotted: true, y: 590 }, { label: "UTCI", color: BLACK, width: 2.5, y: 609 }]} />
      <Legend box={[789, 691, 60, 40]} lineX={[795, 820]} textX={823.5} size={10}
        items={[{ label: "T", color: BLACK, width: 1.8, dotted: true, y: 700 }, { label: "UTCI", color: BLACK, width: 2.5, y: 720.5 }]} />
      <Legend box={[68, 875, 60, 37]} lineX={[72, 100]} textX={101.5} size={10}
        items={[{ label: "T", color: BLACK, width: 1.8, dotted: true, y: 883.3 }, { label: "UTCI", color: BLACK, width: 2.2, y: 901 }]} />

      {/* captions */}
      <HText x={222} y={255} size={17} family={SERIF}>(a)</HText>
      <HText x={660} y={255} size={17} family={SERIF}>(b)</HText>
      <HText x={222} y={521} size={17} family={SERIF}>(c)</HText>
      <HText x={666} y={536} size={17} family={SERIF}>(d)</HText>
      <HText x={226} y={815} size={17} family={SERIF}>(e)</HText>
      <HText x={665} y={815} size={17} family={SERIF}>(f)</HText>
      <HText x={222} y={1074} size={17} family={SERIF}>(g)</HText>

      <StressTable />
    </div>
  );
}
